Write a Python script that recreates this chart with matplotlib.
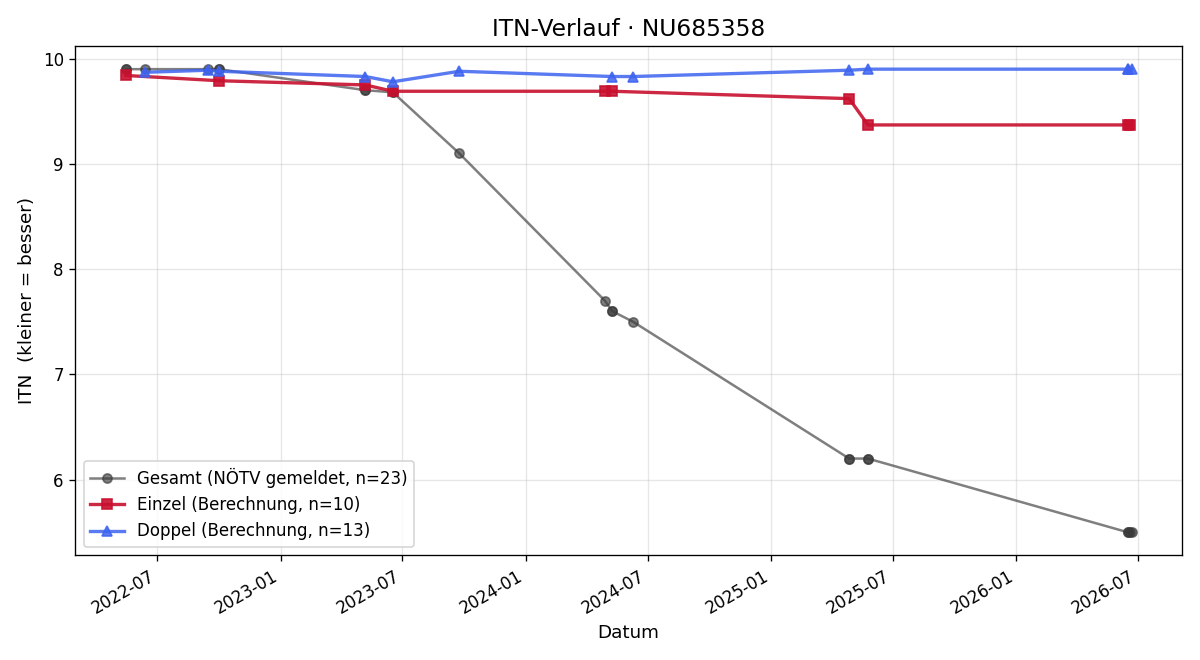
import matplotlib
matplotlib.use("Agg")
import matplotlib.pyplot as plt
import matplotlib.dates as mdates
import pandas as pd

# Gesamt (NÖTV gemeldet)
gesamt_dates = ["2022-05-15", "2022-05-15", "2022-06-12", "2022-09-15", "2022-10-01", "2022-10-01",
                "2023-05-07", "2023-05-07", "2023-06-17", "2023-06-17", "2023-09-24",
                "2024-04-28", "2024-05-09", "2024-05-09", "2024-06-09",
                "2025-04-27", "2025-04-27", "2025-05-25", "2025-05-25",
                "2026-06-16", "2026-06-16", "2026-06-20", "2026-06-22"]
gesamt_vals = [9.9, 9.9, 9.9, 9.9, 9.9, 9.9,
               9.7, 9.7, 9.68, 9.68, 9.1,
               7.7, 7.6, 7.6, 7.5,
               6.2, 6.2, 6.2, 6.2,
               5.5, 5.5, 5.5, 5.5]

# Einzel (Berechnung)
einzel_dates = ["2022-05-15", "2022-10-01", "2023-05-07", "2023-06-17", "2024-04-28",
                "2024-05-09", "2025-04-27", "2025-05-25", "2026-06-16", "2026-06-20"]
einzel_vals = [9.84, 9.79, 9.75, 9.69, 9.69, 9.69, 9.62, 9.37, 9.37, 9.37]

# Doppel (Berechnung)
doppel_dates = ["2022-06-12", "2022-09-15", "2022-10-01", "2023-05-07", "2023-06-17",
                "2023-09-24", "2024-05-09", "2024-06-09", "2025-04-27", "2025-05-25",
                "2026-06-16", "2026-06-16", "2026-06-22"]
doppel_vals = [9.87, 9.89, 9.88, 9.83, 9.78, 9.88, 9.83, 9.83, 9.89, 9.90, 9.90, 9.90, 9.90]

gd = pd.to_datetime(gesamt_dates)
ed = pd.to_datetime(einzel_dates)
dd = pd.to_datetime(doppel_dates)

fig, ax = plt.subplots(figsize=(10, 5.5), dpi=120)
ax.plot(gd, gesamt_vals, marker="o", color="#3a3a3a", alpha=0.65, linewidth=1.5, markersize=5.5,
        label=f"Gesamt (NÖTV gemeldet, n={len(gesamt_vals)})", zorder=2)
ax.plot(ed, einzel_vals, marker="s", color="#c8102e", alpha=0.9, linewidth=2, markersize=6.5,
        label=f"Einzel (Berechnung, n={len(einzel_vals)})", zorder=3)
ax.plot(dd, doppel_vals, marker="^", color="#3d63f0", alpha=0.85, linewidth=2, markersize=6.5,
        label=f"Doppel (Berechnung, n={len(doppel_vals)})", zorder=4)

ax.set_title("ITN-Verlauf · NU685358", fontsize=14)
ax.set_xlabel("Datum", fontsize=11)
ax.set_ylabel("ITN  (kleiner = besser)", fontsize=11)
ax.grid(True, alpha=0.3)
ax.xaxis.set_major_locator(mdates.MonthLocator(bymonth=[1, 7]))
ax.xaxis.set_major_formatter(mdates.DateFormatter("%Y-%m"))
ax.legend(loc="lower left", fontsize=10)
fig.autofmt_xdate()
fig.tight_layout()
fig.savefig("out.png", dpi=120)
